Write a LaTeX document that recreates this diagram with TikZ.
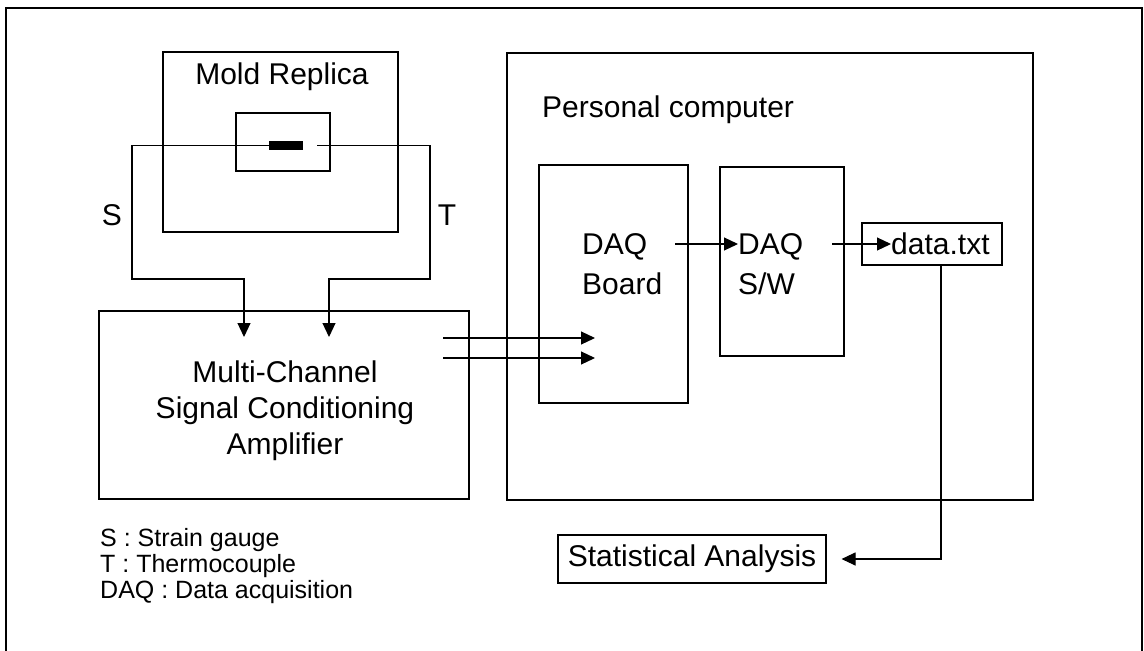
\documentclass[tikz,border=0pt]{standalone}
\usepackage{fontspec}
\setmainfont{Liberation Sans}
\usetikzlibrary{arrows.meta,positioning,calc}

\begin{document}
\begin{tikzpicture}[% styles for the whole picture, 1 unit = 1 px of the sheet
			x=1pt,y=-1pt,
			every node/.style={
				align=center,		% so that "\\" breaks the line
				inner sep=0pt,
				font=\fontsize{30}{36}\selectfont
			},
			blk/.style={rectangle,draw=black,line width=1.1pt},
			wire/.style={draw=black,line width=1.1pt},
			sig/.style={wire,-{Triangle[length=14pt,width=13pt]}},
			legend/.style={anchor=north west,align=left,font=\fontsize{25}{26}\selectfont}
		]
		\useasboundingbox (0,0) rectangle (1144,651);
		\draw[line width=1.3pt] (6,660) -- (6,8) -- (1142,8) -- (1142,660);

		% mold with the gauge
		\node[blk,minimum width=235,minimum height=180](mold) at (280.5,142){};
		\node(moldTxt) at (282,77){Mold Replica};
		\node[blk,minimum width=94,minimum height=58](holder) at (283,142){};
		\node[fill=black,minimum width=34,minimum height=9](gauge) at (286,145.5){};
		\coordinate (tcpl) at (317,145.5);

		% amplifier
		\node[blk,minimum width=370,minimum height=188](amp) at (284,405){};
		\node(ampTxt)[anchor=north] at (285,361){Multi-Channel\\ Signal Conditioning\\ Amplifier};
		\coordinate (sIn) at (244,337);
		\coordinate (tIn) at (329,337);
		\node(sLbl) at (112,215){S};
		\node(tLbl) at (447,215){T};

		% personal computer
		\node[blk,minimum width=526,minimum height=447](pc) at (770,276.5){};
		\node(pcTxt)[anchor=west] at (542,110){Personal computer};
		\node[blk,minimum width=149,minimum height=238](board) at (613.5,284){};
		\node(boardTxt)[anchor=north west,align=left,font=\fontsize{30}{40}\selectfont] at (582,233){DAQ\\ Board};
		\node[blk,minimum width=124,minimum height=189](sw) at (782,261.5){};
		\node(swTxt)[anchor=north west,align=left,font=\fontsize{30}{40}\selectfont] at (738,233){DAQ\\ S/W};
		\node[blk,minimum width=140,minimum height=42](datafile) at (932,244){};
		\node(dataTxt)[anchor=west] at (891,244){data.txt};
		\coordinate (ampOut1) at (443,338);
		\coordinate (ampOut2) at (443,358);
		\coordinate (boardIn) at (595,348);
		\coordinate (boardOut) at (675,244);
		\coordinate (swOut) at (832,244);

		\node[blk,minimum width=268,minimum height=48](stat) at (692,559){Statistical Analysis};

		\node(key)[legend] at (100,528){S : Strain gauge\\ T : Thermocouple\\ DAQ : Data acquisition};

		% connections
		\draw[sig] (gauge.west) -| (132,279) -| (sIn);
		\draw[sig] (tcpl) -| (430,279) -| (tIn);
		\draw[sig] (ampOut1) -- (ampOut1 -| boardIn);
		\draw[sig] (ampOut2) -- (ampOut2 -| boardIn);
		\draw[sig] (boardOut) -- (boardOut -| swTxt.west);
		\draw[sig] (swOut) -- (dataTxt.west);
		\draw[sig,shorten >=15pt] ([xshift=9pt]datafile.south) |- (stat.east);
	\end{tikzpicture}
\end{document}
